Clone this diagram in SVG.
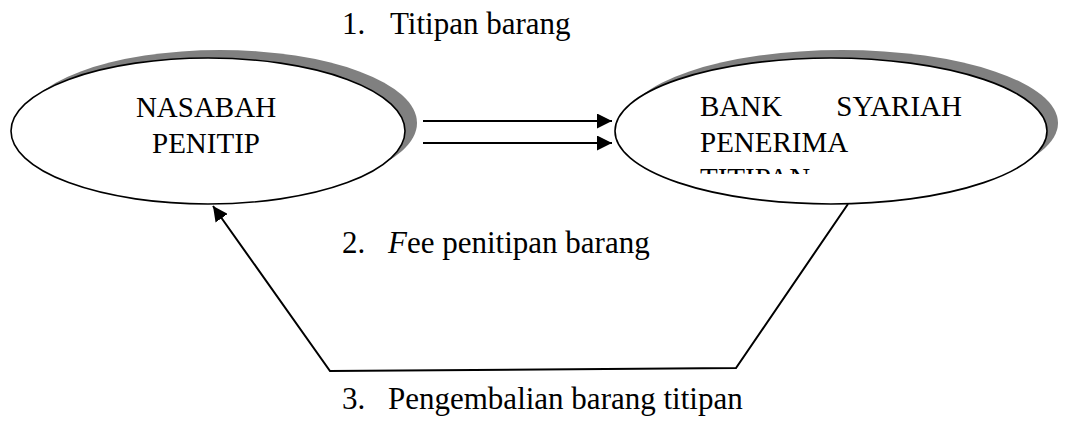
<svg xmlns="http://www.w3.org/2000/svg" width="1066" height="429" viewBox="0 0 1066 429">
<style>
.shadow{fill:#808080;stroke:none}
.node{fill:#fff;stroke:#000;stroke-width:1.6}
text{font-family:'Liberation Serif','Times New Roman','DejaVu Serif',serif;fill:#000}
.n{font-size:29px}
.l{font-size:31px}
.c{fill:none;stroke:#000;stroke-width:2}
</style>
<defs>
<marker id="ah" markerWidth="16" markerHeight="15" refX="15" refY="7.5" orient="auto" markerUnits="userSpaceOnUse">
<path d="M0,0 L15,7.5 L0,15 Z" fill="#000"/>
</marker>
<clipPath id="clipR"><rect x="600" y="60" width="460" height="114"/></clipPath>
</defs>
<rect width="1066" height="429" fill="#fff"/>
<g id="node-nasabah">
<ellipse class="shadow" cx="220" cy="123" rx="197" ry="73"/>
<ellipse class="node" cx="208" cy="131" rx="197" ry="73"/>
<text class="n" x="206" y="117" text-anchor="middle">NASABAH</text>
<text class="n" x="206" y="153" text-anchor="middle">PENITIP</text>
</g>
<g id="node-bank">
<ellipse class="shadow" cx="842" cy="123" rx="216" ry="73"/>
<ellipse class="node" cx="831" cy="131" rx="216" ry="73"/>
<g clip-path="url(#clipR)">
<text class="n" x="700" y="116">BANK</text>
<text class="n" x="962" y="116" text-anchor="end">SYARIAH</text>
<text class="n" x="700" y="152">PENERIMA</text>
<text class="n" x="700" y="188">TITIPAN</text>
</g>
</g>
<g id="connectors">
<line class="c" x1="423" y1="121" x2="612" y2="121" marker-end="url(#ah)"/>
<line class="c" x1="423" y1="143" x2="612" y2="143" marker-end="url(#ah)"/>
<polyline class="c" points="848,204 736,368 330,371 213,206" marker-end="url(#ah)"/>
</g>
<g id="labels">
<text class="l" x="342" y="34">1.</text>
<text class="l" x="390" y="34">Titipan barang</text>
<text class="l" x="342" y="253">2.</text>
<text class="l" x="388" y="253"><tspan font-style="italic">F</tspan>ee penitipan barang</text>
<text class="l" x="342" y="409">3.</text>
<text class="l" x="388" y="409">Pengembalian barang titipan</text>
</g>
</svg>
